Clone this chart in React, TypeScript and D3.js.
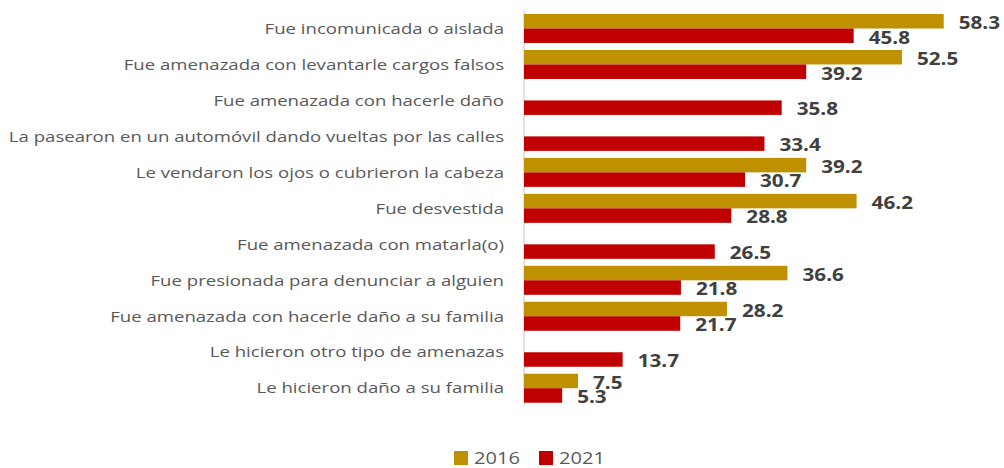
import React from 'react';
import * as d3 from 'd3';

const categories = [
  'Fue incomunicada o aislada',
  'Fue amenazada con levantarle cargos falsos',
  'Fue amenazada con hacerle daño',
  'La pasearon en un automóvil dando vueltas por las calles',
  'Le vendaron los ojos o cubrieron la cabeza',
  'Fue desvestida',
  'Fue amenazada con matarla(o)',
  'Fue presionada para denunciar a alguien',
  'Fue amenazada con hacerle daño a su familia',
  'Le hicieron otro tipo de amenazas',
  'Le hicieron daño a su familia',
];
const values2016: (number | null)[] = [58.3, 52.5, null, null, 39.2, 46.2, null, 36.6, 28.2, null, 7.5];
const values2021: number[] = [45.8, 39.2, 35.8, 33.4, 30.7, 28.8, 26.5, 21.8, 21.7, 13.7, 5.3];
const seriesNames = ['2016', '2021'];
const colors = ['#BF9000', '#C00000'];

const W = 1004;
const H = 468;
const FONT = '"Open Sans", sans-serif';

export default function App() {
  const x = d3.scaleLinear().domain([0, 58.3]).range([524, 943.7]);
  const y = d3.scaleBand<string>()
    .domain(categories)
    .range([10.5, 406.2])
    .paddingInner(0.194)
    .paddingOuter(0.097);
  const inner = d3.scaleBand<string>()
    .domain(seriesNames)
    .range([0, y.bandwidth()]);

  const series = [values2016, values2021];

  return (
    <div style={{ position: 'fixed', left: 0, top: 0 }}>
      <svg width={W} height={H} style={{ display: 'block', background: '#fff' }}>
        {/* axis line */}
        <line x1={x(0)} x2={x(0)} y1={y.range()[0]} y2={y.range()[1]} stroke="#D9D9D9" strokeWidth={1.5} />

        {/* category labels (source text is stretched wide, so scale x) */}
        {categories.map(c => (
          <text
            key={c}
            transform={`translate(504,${(y(c) ?? 0) + y.bandwidth() / 2}) scale(1.24,1)`}
            dy="0.35em"
            textAnchor="end"
            fontFamily={FONT}
            fontSize={15}
            fill="#595959"
          >{c}</text>
        ))}

        {/* bars */}
        {series.map((vals, si) => (
          <g key={seriesNames[si]}>
            {categories.map((c, i) => {
              const v = vals[i];
              if (v == null) return null;
              const yy = (y(c) ?? 0) + (inner(seriesNames[si]) ?? 0);
              return (
                <g key={c}>
                  <rect x={x(0)} y={yy} width={x(v) - x(0)} height={inner.bandwidth()} fill={colors[si]} />
                  <text
                    transform={`translate(${x(v) + 15},${yy + inner.bandwidth() / 2 + 1.5}) scale(1.15,1)`}
                    dy="0.35em"
                    fontFamily={FONT}
                    fontWeight="bold"
                    fontSize={18}
                    fill="#404040"
                  >{v.toFixed(1)}</text>
                </g>
              );
            })}
          </g>
        ))}

        {/* legend */}
        {seriesNames.map((s, i) => (
          <g key={s} transform={`translate(${454 + i * 85},451)`}>
            <rect width={14} height={14} fill={colors[i]} />
            <text transform="translate(20,7) scale(1.18,1)" dy="0.35em" fontFamily={FONT} fontSize={17} fill="#595959">{s}</text>
          </g>
        ))}
      </svg>
    </div>
  );
}
